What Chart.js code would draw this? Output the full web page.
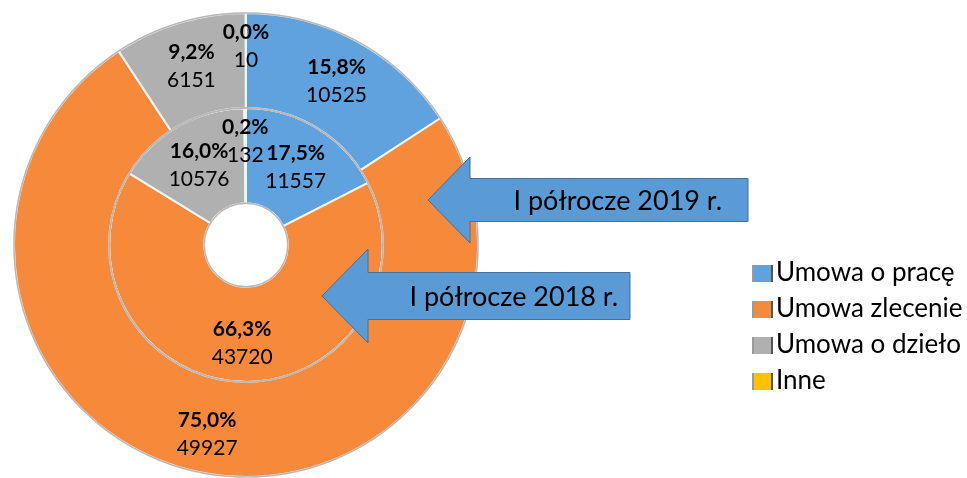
<!DOCTYPE html>
<html>
<head>
<meta charset="utf-8">
<script src="https://cdn.jsdelivr.net/npm/chart.js@4/dist/chart.umd.min.js"></script>
<style>
  html, body { margin: 0; padding: 0; background: #fff; }
  #wrap { position: relative; width: 967px; height: 478px; }
  #legend { position: absolute; left: 752px; top: 253px; font-family: Lato, sans-serif; font-size: 26px; color: #000; }
  #legend div { height: 36px; line-height: 36px; white-space: nowrap; }
  #legend span.box { display: inline-block; width: 21px; height: 17px; margin-right: 3px; vertical-align: -1px;
    border-left: 2px solid #9a9a9a; border-right: 2px solid #555; box-sizing: border-box; }
</style>
</head>
<body>
<div id="wrap">
  <canvas id="chartUmowy" width="967" height="478"></canvas>
  <div id="legend"></div>
</div>
<script>
const categories = ["Umowa o pracę", "Umowa zlecenie", "Umowa o dzieło", "Inne"];
const values2019 = [10525, 49927, 6151, 10];
const values2018 = [11557, 43720, 10576, 132];
const ringLabels = ["I półrocze 2019 r.", "I półrocze 2018 r."];
const colors = ["#5FA2DD", "#F68A3A", "#B0B0B0", "#FFC000"];

const canvas = document.getElementById("chartUmowy");

// soft grey rims around the rings
const rims = {
  id: "rims",
  afterDatasetsDraw(chart) {
    const ctx = chart.ctx;
    ctx.save();
    ctx.strokeStyle = "#b8b8b8";
    ctx.lineWidth = 1.5;
    chart.data.datasets.forEach((ds, di) => {
      const arc = chart.getDatasetMeta(di).data[0];
      [arc.outerRadius, arc.innerRadius].forEach((r) => {
        ctx.beginPath();
        ctx.arc(arc.x, arc.y, r, 0, Math.PI * 2);
        ctx.stroke();
      });
    });
    ctx.restore();
  },
};

// labels: bold percentage + value on each slice
const sliceLabels = {
  id: "sliceLabels",
  afterDatasetsDraw(chart) {
    const ctx = chart.ctx;
    ctx.save();
    ctx.textAlign = "center";
    ctx.textBaseline = "middle";
    ctx.fillStyle = "#000";
    chart.data.datasets.forEach((ds, di) => {
      const total = ds.data.reduce((a, b) => a + b, 0);
      chart.getDatasetMeta(di).data.forEach((arc, i) => {
        const share = ds.data[i] / total;
        // tiny slices: push the label towards the outer edge (like Excel's best fit)
        const k = share < 0.01 ? 0.68 : 0.56;
        const mid = (arc.startAngle + arc.endAngle) / 2;
        const r = arc.innerRadius + (arc.outerRadius - arc.innerRadius) * k;
        const x = arc.x + Math.cos(mid) * r;
        const y = arc.y + Math.sin(mid) * r + 3;
        const pct = (share * 100).toFixed(1).replace(".", ",") + "%";
        ctx.font = "bold 21px Lato";
        ctx.fillText(pct, x, y - 14);
        ctx.font = "21px Lato";
        ctx.fillText(String(ds.data[i]), x, y + 14);
      });
    });
    ctx.restore();
  },
};

// the two callout arrows
const arrows = {
  id: "arrows",
  afterDraw(chart) {
    const ctx = chart.ctx;
    const list = [
      { tip: 428, y: 200, base: 470, right: 748, half: 21.5, headHalf: 43, text: ringLabels[0], tx: 722 },
      { tip: 322, y: 296, base: 368, right: 630, half: 23.5, headHalf: 47, text: ringLabels[1], tx: 618 },
    ];
    ctx.save();
    list.forEach((a) => {
      ctx.beginPath();
      ctx.moveTo(a.tip, a.y);
      ctx.lineTo(a.base, a.y - a.headHalf);
      ctx.lineTo(a.base, a.y - a.half);
      ctx.lineTo(a.right, a.y - a.half);
      ctx.lineTo(a.right, a.y + a.half);
      ctx.lineTo(a.base, a.y + a.half);
      ctx.lineTo(a.base, a.y + a.headHalf);
      ctx.closePath();
      ctx.fillStyle = "#5B9BD5";
      ctx.fill();
      ctx.strokeStyle = "#41719C";
      ctx.lineWidth = 1;
      ctx.stroke();
      ctx.fillStyle = "#000";
      ctx.font = "27px Lato";
      ctx.textAlign = "right";
      ctx.textBaseline = "middle";
      ctx.fillText(a.text, a.tx, a.y + 1);
    });
    ctx.restore();
  },
};

new Chart(canvas.getContext("2d"), {
  type: "doughnut",
  data: {
    labels: categories,
    datasets: [
      {
        label: ringLabels[0],
        data: values2019,
        backgroundColor: colors,
        borderColor: "#f4f4f4",
        borderWidth: 2,
      },
      {
        label: ringLabels[1],
        data: values2018,
        backgroundColor: colors,
        borderColor: "#f4f4f4",
        borderWidth: 2,
      },
    ],
  },
  options: {
    responsive: false,
    animation: false,
    cutout: "18%",
    layout: {
      padding: { top: 12, bottom: 0, left: 13, right: 488 },
    },
    plugins: {
      legend: { display: false },
      tooltip: { enabled: false },
    },
  },
  plugins: [rims, sliceLabels, arrows],
});

const legend = document.getElementById("legend");
categories.forEach((c, i) => {
  const row = document.createElement("div");
  const box = document.createElement("span");
  box.className = "box";
  box.style.background = colors[i];
  row.appendChild(box);
  row.appendChild(document.createTextNode(c));
  legend.appendChild(row);
});
</script>
</body>
</html>
